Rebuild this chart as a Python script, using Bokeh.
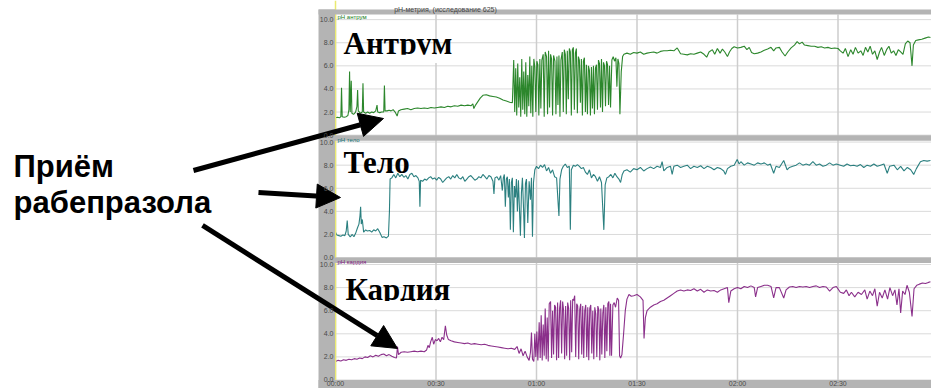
from bokeh.plotting import figure
from bokeh.models import (Range1d, BoxAnnotation, Label, Arrow, NormalHead, Span, ColumnDataSource)
from bokeh.core.properties import value
from bokeh.embed import file_html
from bokeh.resources import INLINE

# ---- data: (time in minutes, pH) ----
antrum = [
    (0, 1.5), (0.6, 1.55), (1.2, 1.5), (1.6, 1.6), (1.8, 4.1), (2.0, 1.6), (2.6, 1.55), (3.2, 1.6),
    (3.7, 1.7), (4.0, 2.2), (4.2, 5.5), (4.4, 2.0), (4.7, 4.7), (4.9, 1.9), (5.4, 1.8), (6.0, 2.0),
    (6.4, 2.5), (6.6, 3.9), (6.8, 2.1), (7.4, 1.9), (8.0, 2.0), (8.2, 4.5), (8.4, 2.0), (9.0, 1.9),
    (9.6, 2.0), (10.2, 1.9), (10.8, 2.0), (11.4, 1.95), (12.0, 2.1), (12.4, 2.6), (12.6, 2.0),
    (13.2, 1.95), (13.8, 2.0), (14.4, 2.0), (14.6, 4.3), (14.8, 2.1), (15.4, 2.1), (16.0, 2.15),
    (16.6, 2.1), (17.2, 2.2), (17.8, 2.0), (18.4, 1.65), (18.8, 2.1), (19.5, 2.2), (20.5, 2.25),
    (21.5, 2.3), (22.5, 2.2), (23.5, 2.3), (24.5, 2.35), (25.5, 2.3), (26.5, 2.35), (27.5, 2.3),
    (28.5, 2.4), (29.5, 2.35), (30.5, 2.4), (31.5, 2.45), (32.5, 2.4), (33.5, 2.5), (34.5, 2.45),
    (35.5, 2.55), (36.5, 2.5), (37.5, 2.6), (38.5, 2.55), (39.5, 2.6), (40.5, 2.55), (41.0, 2.7),
    (41.3, 2.3), (41.8, 2.6), (42.5, 2.9), (43.2, 3.2), (44.0, 3.45), (45.0, 3.5), (46.0, 3.4),
    (47.0, 3.35), (48.0, 3.3), (49.0, 3.2), (50.0, 3.05), (51.0, 2.95), (52.0, 2.85), (52.8, 2.8),
    (53.2, 6.5), (53.5, 2.0), (53.8, 5.8), (54.1, 1.7), (54.4, 6.2), (54.7, 2.4), (55.0, 5.0),
    (55.3, 1.6), (55.6, 6.6), (55.9, 2.2), (56.2, 5.5), (56.5, 1.8), (56.8, 6.3), (57.1, 1.6),
    (57.4, 5.2), (57.7, 2.5), (58.0, 6.8), (58.3, 1.9), (58.6, 6.0), (58.9, 1.6), (59.2, 6.6),
    (59.5, 5.9), (59.8, 2.0), (60.1, 6.4), (60.4, 6.1), (60.7, 1.7), (61.0, 6.6), (61.3, 2.3),
    (61.6, 6.5), (62.0, 7.0), (62.3, 1.6), (62.6, 7.2), (63.0, 6.8), (63.3, 1.8), (63.6, 7.3),
    (63.9, 2.4), (64.2, 7.0), (64.5, 6.6), (64.8, 1.7), (65.1, 6.9), (65.5, 6.4), (65.8, 1.8),
    (66.1, 6.8), (66.4, 2.6), (66.7, 6.9), (67.0, 1.6), (67.3, 6.5), (67.7, 7.2), (68.0, 2.0),
    (68.3, 7.4), (68.6, 7.0), (68.9, 1.8), (69.2, 7.3), (69.5, 3.1), (69.8, 7.5), (70.1, 7.2),
    (70.4, 1.7), (70.7, 7.4), (71.0, 7.6), (71.3, 2.2), (71.6, 7.1), (71.9, 7.5), (72.2, 1.9),
    (72.5, 6.8), (72.8, 6.5), (73.1, 2.8), (73.4, 6.6), (73.7, 1.7), (74.0, 6.4), (74.3, 6.7),
    (74.6, 2.0), (74.9, 6.1), (75.2, 1.8), (75.5, 6.0), (75.8, 5.6), (76.1, 1.7), (76.4, 5.9),
    (76.7, 2.3), (77.0, 6.0), (77.3, 1.8), (77.6, 5.8), (77.9, 6.1), (78.2, 2.2), (78.5, 6.5),
    (78.8, 6.2), (79.1, 2.4), (79.4, 6.6), (79.7, 2.0), (80.0, 6.3), (80.3, 6.0), (80.6, 2.5),
    (80.9, 6.4), (81.2, 6.1), (81.5, 2.6), (81.8, 6.0), (82.1, 2.4), (82.5, 6.5), (82.9, 6.8),
    (83.3, 6.4), (83.7, 6.7), (84.0, 4.2), (84.3, 6.6), (84.6, 6.2), (84.9, 1.8), (85.3, 5.5),
    (85.7, 6.8), (86.1, 7.0), (87, 7.1), (88, 7.0), (89, 7.15), (90, 7.1), (91, 7.2), (92, 7.0),
    (93, 7.1), (94, 7.15), (95, 7.2), (96, 7.1), (97, 7.25), (98, 7.3), (99, 7.3), (100, 7.35),
    (101, 7.3), (102, 7.55), (102.5, 7.3), (103, 7.05), (104, 7.0), (105, 6.95), (106, 7.05),
    (107, 7.0), (108, 7.1), (109, 7.2), (110, 7.0), (110.8, 6.75), (111.5, 7.2), (112.5, 7.4),
    (113.2, 7.0), (114, 7.5), (114.8, 7.1), (115.5, 7.45), (116.2, 7.2), (117.0, 6.8), (117.6, 7.2),
    (118.3, 7.5), (119, 7.65), (120, 7.55), (121, 7.6), (122, 7.7), (122.8, 7.4), (123.5, 7.6),
    (124.2, 7.15), (125, 7.05), (126, 7.1), (127, 7.2), (128, 7.35), (129, 7.45), (130, 7.6),
    (130.8, 7.3), (131.5, 7.55), (132.5, 7.6), (133.3, 7.2), (134.2, 6.85), (135, 7.2), (136, 7.55),
    (137, 7.8), (137.8, 8.1), (138.5, 7.9), (139.3, 8.05), (140, 7.8), (141, 7.75), (142, 7.7),
    (143, 7.7), (144, 7.6), (145, 7.65), (146, 7.55), (147, 7.6), (148, 7.5), (149, 7.55), (150, 7.5),
    (150.7, 7.3), (151.5, 7.1), (152.2, 7.5), (153, 6.8), (153.8, 7.4), (154.5, 7.0), (155.2, 7.6),
    (156, 7.1), (156.8, 7.3), (157.5, 6.9), (158.2, 7.6), (158.9, 7.2), (159.6, 7.7), (160.3, 7.0),
    (161, 7.3), (161.7, 6.55), (162.4, 7.2), (163, 7.6), (163.8, 6.9), (164.5, 7.4), (165.2, 7.7),
    (165.9, 7.1), (166.6, 7.3), (167.3, 6.9), (168, 7.4), (168.7, 7.2), (169.4, 7.0), (170.1, 7.9),
    (170.8, 8.15), (171.5, 8.0), (172.1, 6.0), (172.5, 7.8), (173.2, 8.2), (174, 8.25), (175, 8.3),
    (176, 8.4), (177, 8.5), (177.6, 8.45),
]

telo = [
    (0, 2.2), (0.4, 1.95), (1.0, 1.9), (1.6, 1.85), (2.2, 1.95), (2.8, 1.9), (3.2, 2.3), (3.5, 3.2),
    (3.8, 2.0), (4.4, 1.8), (5.0, 2.0), (5.5, 1.8), (6.0, 2.1), (6.6, 2.6), (7.0, 2.9), (7.3, 3.6),
    (7.5, 4.4), (7.7, 2.9), (8.0, 3.3), (8.4, 2.2), (9.0, 2.4), (9.5, 2.3), (10.2, 2.35), (10.8, 2.2),
    (11.4, 2.4), (12.0, 2.3), (12.6, 2.5), (13.2, 2.2), (13.9, 1.75), (14.5, 1.8), (15.2, 1.7),
    (15.8, 1.85), (16.1, 4.0), (16.3, 6.8), (16.8, 6.9), (17.4, 7.2), (18.0, 6.9), (18.6, 7.3),
    (19.2, 7.0), (19.8, 7.2), (20.4, 6.95), (21.0, 7.1), (21.6, 6.8), (22.2, 7.2), (22.8, 7.3),
    (23.4, 7.0), (24.0, 7.1), (24.6, 6.9), (25.0, 6.6), (25.2, 4.4), (25.4, 6.7), (26.0, 6.6),
    (26.6, 6.8), (27.2, 6.7), (27.8, 6.9), (28.4, 7.0), (29.0, 6.8), (29.6, 6.9), (30.2, 6.7),
    (30.8, 6.95), (31.4, 6.8), (32.0, 6.5), (32.6, 6.7), (33.2, 6.9), (33.8, 7.0), (34.4, 6.8),
    (35.0, 7.1), (35.6, 6.9), (36.2, 7.2), (36.8, 6.9), (37.4, 6.8), (38.0, 7.0), (38.6, 6.6),
    (39.2, 6.8), (39.8, 7.0), (40.4, 7.1), (41.0, 6.9), (41.6, 6.7), (42.2, 6.8), (42.8, 7.0),
    (43.4, 6.9), (44.0, 7.2), (44.6, 7.0), (45.2, 6.8), (45.8, 7.1), (46.4, 7.0), (47.0, 6.6),
    (47.3, 5.5), (47.6, 6.9), (48.2, 7.0), (48.8, 6.7), (49.3, 7.1), (49.8, 5.8), (50.1, 6.9),
    (50.4, 7.2), (50.7, 4.4), (51.0, 6.8), (51.3, 7.0), (51.6, 5.2), (51.9, 6.8), (52.2, 2.4),
    (52.5, 6.5), (52.8, 6.9), (53.1, 2.2), (53.4, 6.2), (53.7, 5.2), (54.0, 6.8), (54.3, 4.0),
    (54.6, 6.7), (55.2, 1.9), (55.5, 5.6), (55.8, 6.9), (56.1, 4.5), (56.4, 1.7), (56.7, 6.4),
    (57.0, 6.8), (57.4, 3.0), (57.8, 6.6), (58.2, 5.0), (58.5, 6.9), (58.8, 1.8), (59.1, 6.5),
    (59.5, 7.6), (60.0, 7.9), (60.6, 7.7), (61.2, 8.0), (61.8, 7.8), (62.4, 8.05), (63.0, 7.5),
    (63.6, 7.8), (64.2, 7.3), (64.8, 7.6), (65.4, 7.0), (66.0, 6.9), (66.5, 4.5), (66.7, 3.6),
    (67.0, 6.8), (67.5, 7.6), (68.0, 7.9), (68.6, 8.1), (69.2, 7.8), (69.8, 7.9), (70.1, 2.4),
    (70.4, 7.6), (71.0, 8.0), (71.6, 7.9), (72.2, 8.05), (72.8, 7.9), (73.4, 7.7), (74.0, 7.8),
    (74.6, 7.4), (75.2, 7.2), (75.8, 7.6), (76.4, 6.9), (77.0, 7.2), (77.6, 7.0), (78.2, 6.6),
    (78.8, 7.0), (79.4, 6.5), (80.1, 2.4), (80.5, 6.3), (81.0, 6.9), (81.6, 7.0), (82.2, 7.2),
    (82.8, 6.9), (83.4, 7.3), (84.0, 7.0), (84.6, 6.8), (85.1, 6.5), (85.6, 7.2), (86.1, 7.5),
    (87, 7.6), (88, 7.4), (89, 7.7), (90, 7.6), (91, 7.8), (92, 7.5), (93, 7.7), (94, 7.85),
    (95, 7.7), (96, 7.9), (97, 7.8), (97.5, 8.3), (98, 7.5), (99, 7.8), (100, 7.9), (100.5, 7.2),
    (101, 7.9), (102, 8.0), (103, 7.8), (104, 7.9), (105, 8.0), (106, 7.7), (107, 7.9), (108, 7.8),
    (109, 7.95), (110, 7.7), (111, 7.9), (112, 7.8), (113, 7.6), (114, 7.8), (115, 7.7),
    (115.9, 7.5), (116.4, 7.2), (117, 7.7), (118, 7.9), (119, 8.0), (119.9, 8.5), (120.5, 8.1),
    (121, 8.3), (122, 8.0), (123, 8.2), (124, 8.1), (125, 8.0), (126, 8.2), (127, 8.1), (128, 8.2),
    (129, 8.0), (129.8, 8.1), (130.8, 7.3), (131.5, 7.9), (132.5, 7.8), (133.8, 8.4), (134.8, 7.6),
    (135.5, 7.8), (136.5, 7.9), (137.5, 8.0), (138.5, 8.2), (139.5, 8.0), (140.5, 8.1), (141.5, 8.0),
    (142.5, 8.3), (143.5, 8.0), (144.5, 8.1), (145.5, 7.9), (146.5, 8.0), (147.5, 8.2), (148.5, 8.0),
    (149.5, 8.1), (150.7, 8.0), (151.7, 7.9), (152.7, 8.1), (153.7, 7.95), (154.7, 8.0), (155.7, 7.9),
    (156.7, 8.05), (157.7, 7.8), (158.7, 8.0), (159.7, 7.9), (160.7, 8.1), (161.7, 7.9), (162.7, 8.0),
    (163.7, 8.1), (164.7, 7.3), (165.4, 7.9), (166.7, 8.0), (167.7, 7.6), (168.7, 7.9), (169.7, 7.5),
    (170.7, 7.8), (171.7, 7.6), (172.6, 7.2), (173.4, 7.7), (174.6, 8.3), (175.6, 8.4), (176.6, 8.35),
    (177.6, 8.4),
]

kardia = [
    (0, 1.6), (0.8, 1.7), (1.6, 1.65), (2.4, 1.75), (3.2, 1.7), (4.0, 1.8), (4.8, 1.75), (5.6, 1.85),
    (6.4, 1.8), (7.2, 1.9), (8.0, 1.85), (8.8, 2.0), (9.6, 1.95), (10.4, 2.1), (11.2, 2.0), (12.0, 2.15),
    (12.8, 2.05), (13.6, 2.2), (14.4, 2.25), (15.2, 2.1), (16.0, 2.2), (16.8, 2.05), (17.6, 1.95),
    (18.2, 1.9), (18.5, 2.9), (18.8, 2.2), (19.6, 2.4), (20.5, 2.45), (21.5, 2.4), (22.5, 2.45),
    (23.5, 2.5), (24.5, 2.45), (25.5, 2.5), (26.5, 2.45), (27.2, 2.6), (27.6, 3.0), (28.0, 2.8),
    (28.4, 3.3), (28.9, 3.7), (29.3, 3.1), (29.8, 3.5), (30.3, 3.4), (30.8, 3.6), (31.3, 3.3),
    (31.8, 3.7), (32.3, 3.5), (32.8, 4.7), (33.2, 3.9), (33.7, 3.5), (34.5, 3.4), (35.5, 3.3),
    (36.5, 3.25), (37.5, 3.2), (38.5, 3.15), (39.5, 3.2), (40.5, 3.1), (41.5, 3.15), (42.5, 3.1),
    (43.5, 3.05), (44.5, 3.1), (45.5, 3.0), (46.5, 2.95), (47.5, 2.9), (48.5, 2.85), (49.5, 2.8),
    (50.5, 2.75), (51.5, 2.7), (52.5, 2.75), (53.5, 2.65), (54.2, 2.9), (54.8, 2.3), (55.4, 2.7),
    (56.0, 2.1), (56.6, 2.5), (57.2, 2.0), (57.8, 1.7), (58.2, 2.4), (58.5, 4.1), (58.8, 1.8),
    (59.2, 1.6), (59.5, 4.0), (59.8, 2.0), (60.1, 4.2), (60.4, 1.7), (60.8, 5.0), (61.1, 1.9),
    (61.4, 5.6), (61.7, 1.7), (62.0, 4.8), (62.3, 2.1), (62.6, 6.2), (62.9, 1.8), (63.2, 5.4),
    (63.5, 1.6), (63.8, 6.6), (64.2, 6.8), (64.5, 1.9), (64.8, 6.0), (65.1, 2.2), (65.4, 6.5),
    (65.7, 6.3), (66.0, 1.7), (66.3, 6.7), (66.6, 1.9), (66.9, 6.2), (67.2, 6.9), (67.5, 2.3),
    (67.8, 6.8), (68.1, 6.0), (68.4, 1.8), (68.7, 6.4), (69.0, 2.1), (69.3, 6.7), (69.6, 6.2),
    (69.9, 1.7), (70.2, 6.9), (70.5, 2.4), (70.8, 7.0), (71.1, 6.9), (71.4, 7.3), (71.7, 2.0),
    (72.0, 6.6), (72.3, 6.4), (72.6, 1.8), (72.9, 6.1), (73.2, 6.6), (73.5, 2.2), (73.8, 6.4),
    (74.1, 1.9), (74.4, 6.0), (74.7, 6.5), (75.0, 2.0), (75.3, 6.3), (75.6, 1.7), (75.9, 6.2),
    (76.2, 6.5), (76.5, 2.3), (76.8, 6.0), (77.1, 1.8), (77.4, 6.3), (77.7, 5.7), (78.0, 2.0),
    (78.3, 6.4), (78.6, 6.1), (78.9, 1.7), (79.2, 6.2), (79.5, 2.2), (79.8, 5.8), (80.1, 6.5),
    (80.4, 1.9), (80.7, 6.3), (81.0, 2.5), (81.3, 6.6), (81.6, 6.8), (81.9, 2.1), (82.1, 6.6),
    (82.4, 2.1), (82.8, 6.5), (83.2, 6.7), (83.6, 6.3), (84.1, 7.1), (84.5, 6.9), (84.8, 2.1),
    (85.1, 1.9), (85.5, 2.2), (86.0, 4.0), (86.5, 6.0), (87.0, 7.0), (87.6, 7.4), (88.3, 7.25),
    (89, 7.3), (90, 7.4), (91, 7.2), (91.8, 6.9), (92.1, 3.6), (92.5, 5.4), (93.0, 6.0), (94, 6.3),
    (95, 6.5), (96, 6.6), (97, 6.8), (98, 6.9), (99, 7.1), (100, 7.3), (101, 7.5), (102, 7.7),
    (103, 7.8), (104, 7.7), (105, 7.8), (106, 7.75), (107, 7.9), (108, 7.7), (109, 7.85), (110, 7.6),
    (111, 7.8), (112, 7.7), (113, 7.75), (114, 7.6), (115, 7.8), (116, 7.9), (117, 8.0), (117.4, 6.7),
    (118, 7.7), (119, 7.9), (120, 8.0), (121, 7.9), (122, 8.1), (123, 8.0), (124, 8.15), (125, 8.0),
    (125.4, 7.2), (126, 8.0), (127, 8.1), (128, 8.2), (129, 8.2), (130, 8.1), (130.8, 7.1),
    (131.5, 8.0), (132.5, 8.0), (133.8, 7.1), (134.5, 7.8), (135.5, 8.05), (136.5, 8.1), (137.5, 8.0),
    (138.5, 8.1), (139.5, 8.05), (140.5, 8.1), (141.5, 8.0), (142.5, 8.1), (143.5, 8.15), (144.5, 8.0),
    (145.5, 8.1), (146.5, 8.05), (147.5, 7.7), (148.5, 8.0), (149.5, 8.1), (150.7, 7.6), (151.7, 7.5),
    (152.5, 7.8), (153.3, 7.3), (154, 7.6), (155, 7.2), (156, 7.6), (157, 7.4), (158, 7.8),
    (158.7, 7.0), (159.5, 7.7), (160.3, 7.3), (161, 7.9), (161.7, 6.4), (162.4, 7.6), (163.2, 7.1),
    (164, 7.8), (164.8, 7.0), (165.5, 8.0), (166.3, 7.3), (167, 7.8), (167.6, 6.5), (168.2, 7.9),
    (168.7, 5.8), (169.3, 7.7), (170, 7.4), (170.6, 8.2), (171.3, 7.6), (172.1, 5.5), (172.7, 7.9),
    (173.5, 8.2), (174.3, 8.3), (175.2, 8.4), (176.1, 8.35), (177, 8.45), (177.6, 8.5),
]

series = [antrum, telo, kardia]
series_headers = ["pH   антрум", "pH   тело", "pH   кардия"]
series_titles = ["Антрум", "Тело", "Кардия"]
series_colors = ["#157a15", "#147272", "#7e1a7e"]

y_ticks = [0, 2, 4, 6, 8, 10]
y_tick_labels = ["0.0", "2.0", "4.0", "6.0", "8.0", "10.0"]
x_ticks = [0, 30, 60, 90, 120, 150]
x_tick_labels = ["00:00", "00:30", "01:00", "01:30", "02:00", "02:30"]
chart_title = "pH-метрия,   (исследование 625)"
note_lines = ["Приём", "рабепразола"]

# ---- layout: one frame, three stacked panels, each with its own y range ----
OFF = 10.6            # vertical spacing between panels (pH units)
Y_BOT, Y_TOP = -0.736, 32.857
X_LEFT, X_RIGHT = -100.0, 177.91
STRIP_TOP = 31.64     # bottom of the top gray strip (primary units)
BIG_SHIFT = 0.94      # baseline correction for the 31px captions
GRAY = "#b4b4b4"
FONT = "Liberation Sans"

p = figure(width=931, height=388, x_range=Range1d(X_LEFT, X_RIGHT), y_range=Range1d(Y_BOT, Y_TOP),
           output_backend="svg", toolbar_location=None,
           x_axis_location=None, y_axis_location=None,
           min_border_left=0, min_border_right=0, min_border_top=0, min_border_bottom=0)
p.outline_line_color = None
p.background_fill_color = "white"
p.border_fill_color = "white"
p.xgrid.visible = False
p.ygrid.visible = False

range_names = ["p1", "p2", "p3"]
offsets = [2 * OFF, OFF, 0.0]
for rn, off in zip(range_names, offsets):
    p.extra_y_ranges[rn] = Range1d(Y_BOT - off, Y_TOP - off)

# grid lines, from the tick lists, limited to the panel area
for rn in range_names:
    p.segment(x0=[0] * len(y_ticks), x1=[X_RIGHT + 5] * len(y_ticks), y0=y_ticks, y1=y_ticks,
              y_range_name=rn, line_color="#dadada", line_width=1)
p.segment(x0=x_ticks, x1=x_ticks, y0=[0] * len(x_ticks), y1=[STRIP_TOP] * len(x_ticks),
          line_color="#cdcdcd", line_width=1.5)

# data lines
for data, rn, col in zip(series, range_names, series_colors):
    t = [d[0] for d in data]
    ph = [d[1] for d in data]
    p.line(t, ph, y_range_name=rn, line_color=col, line_width=1.1, line_alpha=0.9)

# yellow start line
p.add_layout(Span(location=0, dimension="height", line_color="#eaea70", line_width=1.5))

# gray frame pieces of the recorder window
box = dict(fill_color=GRAY, fill_alpha=1, line_color=None)
p.add_layout(BoxAnnotation(left=-5.07, right=-0.15, bottom=Y_BOT, top=32.08, **box))
p.add_layout(BoxAnnotation(left=-5.07, right=190, bottom=STRIP_TOP, top=32.08, **box))
p.add_layout(BoxAnnotation(left=-5.07, right=190, bottom=Y_BOT, top=0.0, **box))
for off_low, off_high in [(0.0, OFF), (OFF, 2 * OFF)]:
    p.add_layout(BoxAnnotation(left=-0.15, right=190, bottom=off_low + 10.12, top=off_high, **box))

# tick labels (y for each panel, x along the bottom strip)
for rn in range_names:
    src = ColumnDataSource(dict(y=y_ticks, x=[-0.6] * len(y_ticks), txt=y_tick_labels))
    p.text(x="x", y="y", text="txt", source=src, y_range_name=rn, text_align="right",
           text_baseline="middle", text_font=value(FONT), text_font_size="7px",
           text_color="#4a4a4a", level="overlay")
xsrc = ColumnDataSource(dict(x=x_ticks, y=[-0.3] * len(x_ticks), txt=x_tick_labels))
p.text(x="x", y="y", text="txt", source=xsrc, text_align="center", text_baseline="middle",
       text_font=value(FONT), text_font_size="7px", text_color="#4a4a4a", level="overlay")

# title in the top strip
p.add_layout(Label(x=17.5, y=32.12, text=chart_title, text_font=FONT,
                   text_font_size="7px", text_color="#444444", text_baseline="alphabetic"))

# panel headers and big captions (baseline at ty)
title_pos = [(2.4, 7.0, 35.5), (2.4, 7.25, None), (3.0, 6.88, 35.2)]
for rn, head, ttl, col, (tx, ty, tend) in zip(range_names, series_headers, series_titles,
                                               series_colors, title_pos):
    p.add_layout(Label(x=0.6, y=10.2, y_range_name=rn, text=head, text_font=FONT,
                       text_font_size="6px", text_color=col, text_baseline="middle"))
    p.add_layout(Label(x=tx, y=ty + BIG_SHIFT, y_range_name=rn, text=ttl,
                       text_font="Liberation Serif", text_font_style="bold",
                       text_font_size="31px", text_color="black", text_baseline="alphabetic"))
    if tend is not None:   # the pasted caption is cut at its baseline
        p.add_layout(BoxAnnotation(left=tx - 0.2, right=tend, bottom=ty - 0.75, top=ty - 0.05,
                                   y_range_name=rn, fill_color="white", fill_alpha=1,
                                   line_color=None))

# left note (baselines)
for txt, ny in zip(note_lines, [17.53, 14.42]):
    p.add_layout(Label(x=-96.1, y=ny + BIG_SHIFT, text=txt, text_font=FONT,
                       text_font_style="bold", text_font_size="31px", text_color="black",
                       text_baseline="alphabetic"))

# arrows from the note to the traces
arrows = [((-42.39, 18.14), (14.33, 22.64)),
          ((-22.99, 16.23), (1.49, 15.80)),
          ((-39.70, 13.38), (18.51, 2.73))]
for (x0, y0), (x1, y1) in arrows:
    p.add_layout(Arrow(x_start=x0, y_start=y0, x_end=x1, y_end=y1, line_width=5,
                       line_color="black",
                       end=NormalHead(size=24, fill_color="black", line_color="black",
                                      line_width=1)))

open("out.html", "w").write(file_html(p, INLINE))
